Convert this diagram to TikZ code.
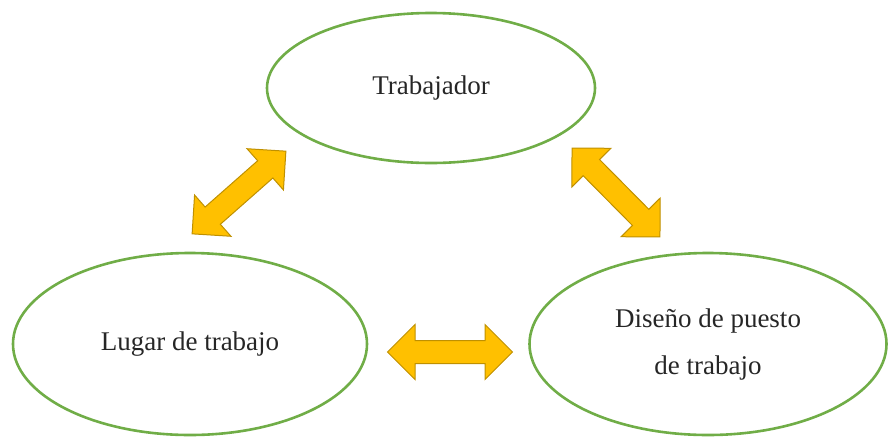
\documentclass[tikz,border=0pt]{standalone}
\usepackage{fontspec}
\setmainfont{Liberation Serif}
\usetikzlibrary{positioning, calc, shapes.geometric}
\definecolor{verde}{HTML}{70AD47}
\definecolor{ambar}{HTML}{FFC000}
\definecolor{ambarborde}{HTML}{BF9000}
\tikzset{
	elipse/.style={shape=ellipse, draw=verde, line width=2.6pt, align=center, inner sep=0pt, text=black!85, font=\fontsize{27}{47}\selectfont},
	flecha/.style={draw=ambarborde, fill=ambar, line width=1pt, line join=miter},
	flechadoble/.pic={
		\draw[flecha] (-62.5, 0) -- (-35, -27.5) -- (-35, -11.5) -- (35, -11.5) -- (35, -27.5)
			-- (62.5, 0) -- (35, 27.5) -- (35, 11.5) -- (-35, 11.5) -- (-35, 27.5) -- cycle;
	},
}

\begin{document}
\begin{tikzpicture}[x=1pt, y=-1pt]
\useasboundingbox (0, 0) rectangle (888, 437);
\node[elipse, minimum width=328pt, minimum height=150pt] (trab) at (431, 88) {Trabajador};
\node[elipse, minimum width=354pt, minimum height=182pt] (lugar) at (190, 344) {Lugar de trabajo};
\node[elipse, minimum width=357pt, minimum height=182pt] (diseno) at (708, 344) {Diseño de puesto\\de trabajo};
% flechas dobles entre los tres
\path (239, 192.5) pic[rotate=41.4] {flechadoble};
\path (616, 192.5) pic[rotate=-45.3] {flechadoble};
\path (450, 352) pic {flechadoble};
\end{tikzpicture}
\end{document}
